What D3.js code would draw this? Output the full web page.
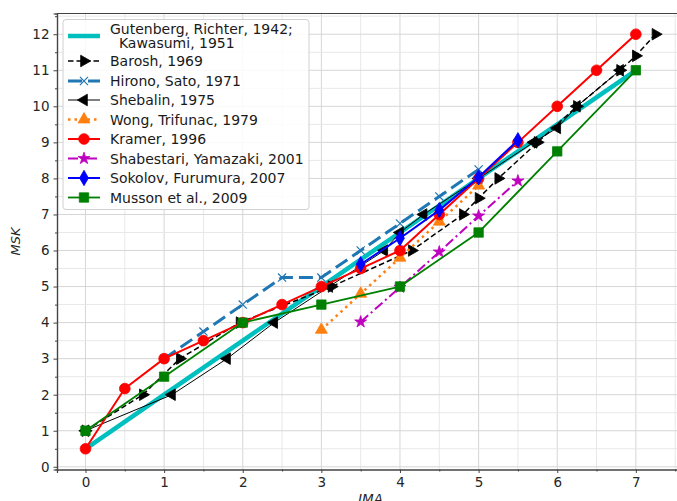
<!DOCTYPE html>
<html>
<head>
<meta charset="utf-8">
<title>MSK vs IMA</title>
<script src="https://cdn.jsdelivr.net/npm/d3@7"></script>
<style>
  body { margin: 0; background: #fff; }
  text { font-family: "DejaVu Sans", sans-serif; }
  .tick text { fill: #262626; font-size: 13.5px; }
  .legend text { font-size: 14px; fill: #1a1a1a; }
</style>
</head>
<body>
<script>
// series data (IMA, MSK)
var grIma = [0, 1, 2, 3, 4, 5, 6, 7];
var grMsk = [0.5, 2, 3.5, 5, 6.5, 8, 9.5, 11];

var baroshIma = [0, 0.73, 1.2, 1.96, 3.13, 4.15, 4.8, 5.0, 5.25, 5.75, 6.25, 6.8, 7.0, 7.25];
var baroshMsk = [1, 2, 3, 4, 5, 6, 7, 7.45, 8, 9, 10, 11, 11.4, 12];

var hironoIma = [1, 1.5, 2, 2.5, 3, 3.5, 4, 4.5, 5];
var hironoMsk = [3, 3.75, 4.5, 5.25, 5.25, 6, 6.75, 7.5, 8.25];

var shebalinIma = [0, 1.1, 1.8, 2.4, 3.1, 3.8, 4.0, 4.3, 5.0, 5.7, 6.0, 6.25, 6.8];
var shebalinMsk = [1, 2, 3, 4, 5, 6, 6.5, 7, 8, 9, 9.4, 10, 11];

var wongIma = [3, 3.5, 4, 4.5, 5];
var wongMsk = [3.8, 4.8, 5.8, 6.8, 7.8];

var kramerIma = [0, 0.5, 1, 1.5, 2, 2.5, 3, 3.5, 4, 4.5, 5, 5.5, 6, 6.5, 7];
var kramerMsk = [0.5, 2.17, 3, 3.5, 4, 4.5, 5, 5.5, 6, 7, 8, 9, 10, 11, 12];

var shabIma = [3.5, 4, 4.5, 5, 5.5];
var shabMsk = [4.02, 4.98, 5.96, 6.96, 7.93];

var sokolovIma = [3.5, 4, 4.5, 5, 5.5];
var sokolovMsk = [5.62, 6.34, 7.12, 8.03, 9.06];

var mussonIma = [0, 1, 2, 3, 4, 5, 6, 7];
var mussonMsk = [1, 2.5, 4, 4.5, 5, 6.5, 8.75, 11];

var labels = ["Gutenberg, Richter, 1942;\n  Kawasumi, 1951", "Barosh, 1969", "Hirono, Sato, 1971",
  "Shebalin, 1975", "Wong, Trifunac, 1979", "Kramer, 1996", "Shabestari, Yamazaki, 2001",
  "Sokolov, Furumura, 2007", "Musson et al., 2009"];

var xTicks = [0, 1, 2, 3, 4, 5, 6, 7];
var yTicks = [0, 1, 2, 3, 4, 5, 6, 7, 8, 9, 10, 11, 12];

var width = 677, height = 501;
var pLeft = 57, pTop = 13.5, pRight = 684, pBottom = 469.5;

var x = d3.scaleLinear().domain([-0.3625, 7.6125]).range([pLeft, pRight]);
var y = d3.scaleLinear().domain([-0.075, 12.575]).range([pBottom, pTop]);

var svg = d3.select("body").append("svg")
    .attr("width", width)
    .attr("height", height);

svg.append("defs").append("clipPath").attr("id", "plot")
  .append("rect").attr("x", pLeft).attr("y", pTop)
    .attr("width", pRight - pLeft).attr("height", pBottom - pTop);

// grid (major + minor every 0.5)
var grid = svg.append("g");
d3.range(0, 7.51, 0.5).forEach(function (v) {
    grid.append("line").attr("x1", x(v)).attr("x2", x(v)).attr("y1", pTop).attr("y2", pBottom)
        .attr("stroke", v % 1 === 0 ? "#d6d6d6" : "#e8e8e8").attr("stroke-width", 1);
});
d3.range(0, 12.51, 0.5).forEach(function (v) {
    grid.append("line").attr("y1", y(v)).attr("y2", y(v)).attr("x1", pLeft).attr("x2", pRight)
        .attr("stroke", v % 1 === 0 ? "#d6d6d6" : "#e8e8e8").attr("stroke-width", 1);
});

// axes
svg.append("g").attr("transform", "translate(0," + pBottom + ")")
    .call(d3.axisBottom(x).tickValues(xTicks).tickSize(3.5).tickPadding(4).tickFormat(d3.format("d")));
svg.append("g").attr("transform", "translate(0," + pBottom + ")")
    .call(d3.axisBottom(x).tickValues(d3.range(0.5, 7.6, 1)).tickSize(2).tickFormat(""));
svg.append("g").attr("transform", "translate(" + pLeft + ",0)")
    .call(d3.axisLeft(y).tickValues(yTicks).tickSize(3.5).tickPadding(4).tickFormat(d3.format("d")));
svg.append("g").attr("transform", "translate(" + pLeft + ",0)")
    .call(d3.axisLeft(y).tickValues(d3.range(0.5, 12.6, 1)).tickSize(2).tickFormat(""));
svg.selectAll(".domain").attr("stroke", "#444").attr("stroke-width", 1.2);
svg.selectAll(".tick line").attr("stroke", "#444");
svg.append("line").attr("x1", pLeft).attr("x2", pRight).attr("y1", pTop).attr("y2", pTop)
    .attr("stroke", "#444").attr("stroke-width", 1.2);

svg.append("text").attr("x", (pLeft + pRight) / 2).attr("y", 504)
    .attr("text-anchor", "middle").style("font-size", "13.5px").style("font-style", "italic")
    .attr("fill", "#262626").text("IMA");
svg.append("text").attr("transform", "translate(20," + y(6.25) + ") rotate(-90)")
    .attr("text-anchor", "middle").style("font-size", "13px").style("font-style", "italic")
    .attr("fill", "#262626").text("MSK");

function zip(a, b) { return a.map(function (v, i) { return [v, b[i]]; }); }

var rightTri = d3.symbol().type(d3.symbolTriangle).size(58)();
var series = [
  { pts: zip(grIma, grMsk), color: "#00bfbf", lw: 4.5, dash: null, marker: null },
  { pts: zip(baroshIma, baroshMsk), color: "#000", lw: 1.5, dash: "5.5,3", marker: { path: rightTri, rot: 90, fill: "#000" } },
  { pts: zip(hironoIma, hironoMsk), color: "#1f77b4", lw: 3, dash: "14,6", marker: { path: d3.symbol().type(d3.symbolTimes).size(45)(), rot: 0, fill: "none", stroke: "#1f77b4", sw: 1.2 } },
  { pts: zip(shebalinIma, shebalinMsk), color: "#000", lw: 1, dash: null, marker: { path: rightTri, rot: -90, fill: "#000" } },
  { pts: zip(wongIma, wongMsk), color: "#ff7f0e", lw: 2.5, dash: "2.5,4", marker: { path: d3.symbol().type(d3.symbolTriangle).size(62)(), rot: 0, fill: "#ff7f0e" } },
  { pts: zip(kramerIma, kramerMsk), color: "#ff0000", lw: 2, dash: null, marker: { path: d3.symbol().type(d3.symbolCircle).size(90)(), rot: 0, fill: "#ff0000" } },
  { pts: zip(shabIma, shabMsk), color: "#bf00bf", lw: 2, dash: "10,3.5,2,3.5", marker: { path: d3.symbol().type(d3.symbolStar).size(45)(), rot: 0, fill: "#bf00bf" } },
  { pts: zip(sokolovIma, sokolovMsk), color: "#0000ff", lw: 2, dash: null, marker: { path: d3.symbol().type(d3.symbolDiamond).size(68)(), rot: 0, fill: "#0000ff" } },
  { pts: zip(mussonIma, mussonMsk), color: "#008000", lw: 1.8, dash: null, marker: { path: d3.symbol().type(d3.symbolSquare).size(88)(), rot: 0, fill: "#008000" } }
];

var line = d3.line().x(function (d) { return x(d[0]); }).y(function (d) { return y(d[1]); });
var plot = svg.append("g").attr("clip-path", "url(#plot)");

function drawMarker(g, m, cx, cy) {
    g.append("path").attr("d", m.path)
        .attr("transform", "translate(" + cx + "," + cy + ") rotate(" + m.rot + ")")
        .attr("fill", m.fill)
        .attr("stroke", m.stroke || m.fill)
        .attr("stroke-width", m.sw || 0.8);
}

series.forEach(function (s) {
    var g = plot.append("g");
    g.append("path").datum(s.pts).attr("d", line)
        .attr("fill", "none").attr("stroke", s.color).attr("stroke-width", s.lw)
        .attr("stroke-dasharray", s.dash).attr("stroke-linejoin", "round");
    if (s.marker) s.pts.forEach(function (p) { drawMarker(g, s.marker, x(p[0]), y(p[1])); });
});

// legend
var lg = svg.append("g").attr("class", "legend");
lg.append("rect").attr("x", 63).attr("y", 19.5).attr("width", 246).attr("height", 190)
    .attr("rx", 3).attr("fill", "#fff").attr("fill-opacity", 0.85)
    .attr("stroke", "#d0d0d0").attr("stroke-width", 1);
var rowY = [36, 61, 81, 100, 119.5, 139, 158.5, 178, 197.5];
series.forEach(function (s, i) {
    var yy = rowY[i];
    lg.append("line").attr("x1", 68).attr("x2", 100).attr("y1", yy).attr("y2", yy)
        .attr("stroke", s.color).attr("stroke-width", s.lw).attr("stroke-dasharray", s.dash);
    if (s.marker) drawMarker(lg, s.marker, 84, yy);
    var lines = labels[i].split("\n");
    var t = lg.append("text").attr("x", 110).attr("y", yy + 5 - (lines.length - 1) * 7);
    lines.forEach(function (l, k) {
        t.append("tspan").attr("x", 110).attr("dy", k === 0 ? 0 : 14).attr("xml:space", "preserve").text(l);
    });
});
</script>
</body>
</html>
